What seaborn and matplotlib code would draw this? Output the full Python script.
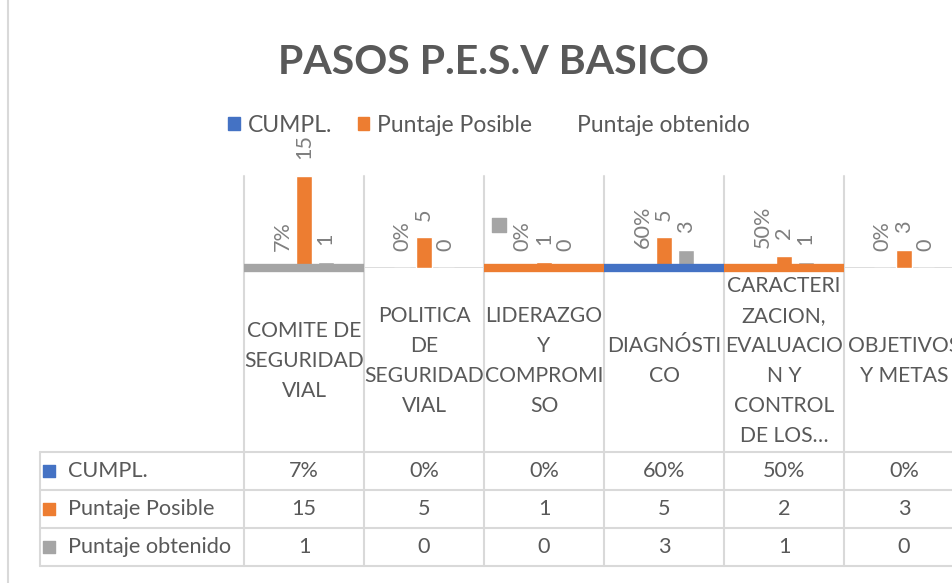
import seaborn as sns
import matplotlib.pyplot as plt
import pandas as pd
from matplotlib.patches import Patch
from matplotlib.lines import Line2D

categories = ["COMITE DE\nSEGURIDAD\nVIAL", "POLITICA\nDE\nSEGURIDAD\nVIAL",
              "LIDERAZGO\nY\nCOMPROMI\nSO", "DIAGNÓSTI\nCO",
              "CARACTERI\nZACION,\nEVALUACIO\nN Y\nCONTROL\nDE LOS…",
              "OBJETIVOS\nY METAS"]
cumpl = [0.07, 0.0, 0.0, 0.60, 0.50, 0.0]
posible = [15, 5, 1, 5, 2, 3]
obtenido = [1, 0, 0, 3, 1, 0]
series = ["CUMPL.", "Puntaje Posible", "Puntaje obtenido"]
colors = ["#4472c4", "#ed7d31", "#a5a5a5"]
# coloured strips Excel drew along the baseline
band_colors = ["#a5a5a5", None, "#ed7d31", "#4472c4", "#ed7d31", None]

sns.set_theme(style="white")
plt.rcParams["font.family"] = ["Lato", "DejaVu Sans"]

W, H = 952, 583
fig = plt.figure(figsize=(W / 100, H / 100), dpi=100)


def fbox(x0, y0, x1, y1):
    return [x0 / W, 1 - y1 / H, (x1 - x0) / W, (y1 - y0) / H]


txt = "#595959"
lab = "#7f7f7f"
grid = "#d9d9d9"
fs = 15.6

# background / table axes (pixel-like y units)
tab = fig.add_axes(fbox(40, 176, 964, 566))
tab.set_xlim(-2.2, 5.5)
tab.set_ylim(566, 176)
tab.axis("off")

n = len(categories)
for k in range(n + 1):
    tab.plot([k - 0.5, k - 0.5], [176, 566], color=grid, lw=1.5, clip_on=False)
tab.plot([-2.2, -2.2], [452, 566], color=grid, lw=1.5, clip_on=False)
for yy in [452, 490, 528, 566]:
    tab.plot([-2.2, 5.5], [yy, yy], color=grid, lw=1.5, clip_on=False)

for i, c in enumerate(categories):
    tab.text(i, 361, c, ha="center", va="center", multialignment="center",
             fontsize=15.2, color=txt, linespacing=1.62, clip_on=False)

rows = [[f"{v:.0%}" for v in cumpl], [str(v) for v in posible], [str(v) for v in obtenido]]
for r, (name, col, vals) in enumerate(zip(series, colors, rows)):
    yc = 471 + 38 * r
    tab.scatter([-2.125], [yc], marker="s", s=80, color=col, clip_on=False)
    tab.text(-1.967, yc, name, ha="left", va="center", fontsize=fs, color=txt)
    for i, v in enumerate(vals):
        tab.text(i, yc, v, ha="center", va="center", fontsize=fs, color=txt, clip_on=False)

# stray legend marker
tab.scatter([1.625], [225], marker="s", s=100, color=colors[2], clip_on=False)

# bar axes
ax = fig.add_axes(fbox(244, 176, 964, 268))
ax.patch.set_alpha(0)
df = pd.DataFrame({
    "cat": list(range(n)) * 3,
    "serie": [s for s in series for _ in range(n)],
    "valor": cumpl + posible + obtenido,
})
sns.barplot(data=df, x="cat", y="valor", hue="serie", hue_order=series,
            palette=colors, width=0.54, gap=0.26, legend=False, ax=ax,
            saturation=1, errorbar=None)
ax.set_xlim(-0.5, 5.5)
ax.set_ylim(0, 15)
ax.axis("off")
ax.axhline(0, color=grid, lw=2, zorder=0)
for i, bc in enumerate(band_colors):
    if bc:
        ax.hlines(0, i - 0.5, i + 0.5, color=bc, lw=6, clip_on=False, zorder=3)

for cont, vals in zip(ax.containers, rows):
    ax.bar_label(cont, labels=vals, rotation=90, padding=12, fontsize=fs,
                 color=lab)

fig.text(493 / W, 1 - 63 / H, "PASOS P.E.S.V BASICO", ha="center", va="center",
         fontsize=29.5, fontweight="bold", color=txt)

handles = [Patch(color=colors[0]), Patch(color=colors[1]), Patch(color="none")]
fig.legend(handles, series, loc="center", bbox_to_anchor=(489 / W, 1 - 125 / H),
           ncol=3, frameon=False, fontsize=16.5, handlelength=0.5, handleheight=0.5,
           handletextpad=0.35, columnspacing=1.1, labelcolor=txt)

fig.add_artist(Line2D([8 / W, 8 / W], [0, 1], color=grid, lw=1.5))

plt.savefig("out.png", dpi=100)
